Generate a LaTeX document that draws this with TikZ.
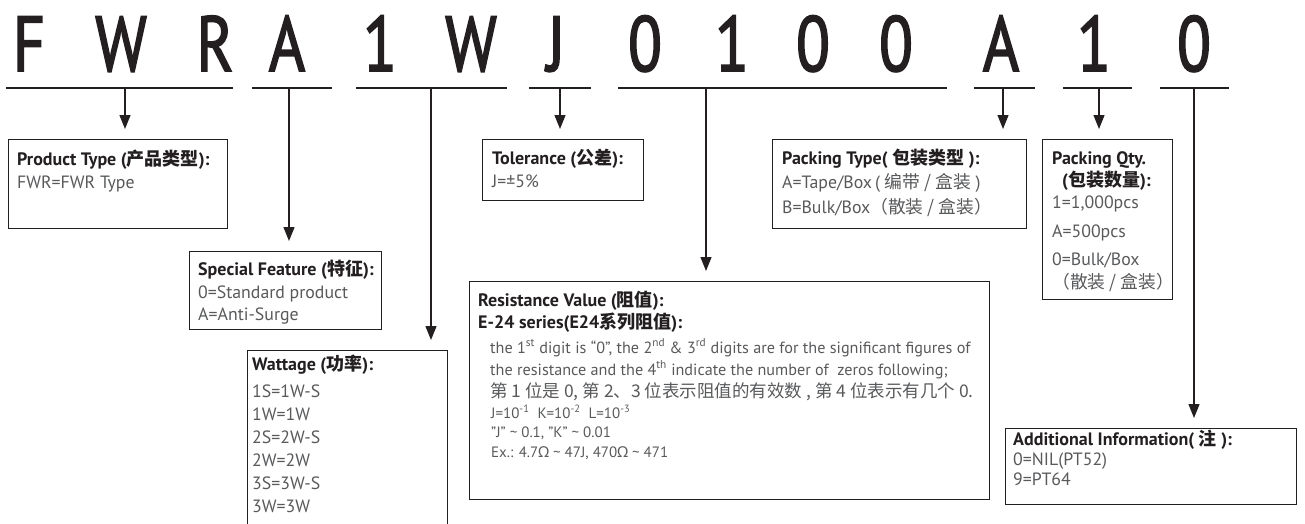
\documentclass[tikz,border=0pt]{standalone}
\usepackage{fontspec}
\setmainfont{PT Sans}
\newfontfamily\codefont[FakeBold=2.2]{PT Sans}
\newfontfamily\zhfont{Noto Sans CJK SC}
\newfontfamily\grfont{Noto Sans}
\usetikzlibrary{arrows.meta}
\definecolor{ink}{HTML}{231F20}
\definecolor{txtgray}{HTML}{58595B}
\newcommand{\zh}[1]{{\zhfont #1}}

\begin{document}
\begin{tikzpicture}[x=1pt,y=-1pt,
	code/.style={anchor=base, inner sep=0pt, font=\codefont\fontsize{78}{80}\selectfont, text=ink},
	bar/.style={line width=2pt, draw=ink},
	pointer/.style={line width=1.3pt, draw=ink, -{Triangle[length=14pt,width=11pt]}, shorten >=10pt},
	infobox/.style={draw=ink, line width=1.2pt, anchor=north west, inner sep=0pt},
	head/.style={anchor=base west, inner sep=0pt, font=\bfseries\fontsize{18}{20}\selectfont, text=ink},
	entry/.style={anchor=base west, inner sep=0pt, font=\fontsize{17.8}{20}\selectfont, text=txtgray},
	note/.style={entry, font=\fontsize{16.2}{18}\selectfont},
	small/.style={entry, font=\fontsize{15}{17}\selectfont},
]
	\useasboundingbox (0,0) rectangle (1305,523);
	\clip (0,0) rectangle (1305,523);

	% part number, one letter per node
	\foreach \ch/\px [count=\i] in {F/29, W/121, R/215, A/287, 1/380, W/471, J/556,
		0/645, 1/732, 0/813, 0/896, A/1001, 1/1094, 0/1194}
		\node[code] (c\i) at (\px,71) {\scalebox{0.8}[1]{\ch}};
	\foreach \a/\b in {6/233, 252/332, 356/507, 529/591, 618/947, 974/1035, 1063/1132, 1160/1229}
		\draw[bar] (\a,88) -- (\b,88);

	% where the pointers leave the bars
	\coordinate (tprod) at (125,88);
	\coordinate (tspec) at (289,88);
	\coordinate (twatt) at (431,88);
	\coordinate (ttol) at (560,88);
	\coordinate (tres) at (706,88);
	\coordinate (tpack) at (1003,88);
	\coordinate (tqty) at (1099,88);
	\coordinate (tadd) at (1194,88);

	% boxes
	\node[infobox, minimum width=219pt, minimum height=89pt] (prod) at (8,139) {};
	\node[infobox, minimum width=192pt, minimum height=78pt] (spec) at (189,251) {};
	\node[infobox, minimum width=200pt, minimum height=220pt] (watt) at (247,350) {};
	\node[infobox, minimum width=161pt, minimum height=61pt] (tol) at (482,139) {};
	\node[infobox, minimum width=520pt, minimum height=218pt] (res) at (469,281) {};
	\node[infobox, minimum width=254pt, minimum height=89pt] (pack) at (772,139) {};
	\node[infobox, minimum width=130pt, minimum height=160pt] (qty) at (1042,139) {};
	\node[infobox, minimum width=291pt, minimum height=76pt] (add) at (1005,428) {};

	\draw[pointer] (tprod) -- (tprod |- prod.north);
	\draw[pointer] (tspec) -- (tspec |- spec.north);
	\draw[pointer] (twatt) -- (twatt |- watt.north);
	\draw[pointer] (ttol) -- (ttol |- tol.north);
	\draw[pointer] (tres) -- (tres |- res.north);
	\draw[pointer] (tpack) -- (tpack |- pack.north);
	\draw[pointer] (tqty) -- (tqty |- qty.north);
	\draw[pointer] (tadd) -- (tadd |- add.north);

	% product type
	\node[head] (prodh) at (17,165) {Product Type (\zh{产品类型}):};
	\node[entry] (prod1) at (17,188) {FWR=FWR Type};

	% special feature
	\node[head] (spech) at (198,275) {Special Feature (\zh{特征}):};
	\node[entry] (spec1) at (198,298) {0=Standard product};
	\node[entry] (spec2) at (198,320) {A=Anti-Surge};

	% wattage
	\node[head] (watth) at (252,370) {Wattage (\zh{功率}):};
	\foreach \t [count=\i] in {1S=1W-S, 1W=1W, 2S=2W-S, 2W=2W, 3S=3W-S, 3W=3W}
		\node[entry] (watt\i) at (252,374+23*\i) {\t};

	% tolerance
	\node[head] (tolh) at (492,164) {Tolerance (\zh{公差}):};
	\node[entry] (tol1) at (492,187) {J=±5\%};

	% resistance value
	\node[head] (resh) at (478,306) {Resistance Value (\zh{阻值}):};
	\node[head] (resh2) at (478,328) {E-24 series(E24\zh{系列阻值}):};
	\node[note] (res1) at (490,353) {the 1\textsuperscript{st} digit is “0”, the 2\textsuperscript{nd} \& 3\textsuperscript{rd} digits are for the significant figures of};
	\node[note] (res2) at (490,375) {the resistance and the 4\textsuperscript{th} indicate the number of \ zeros following;};
	\node[entry, font=\fontsize{17.5}{20}\selectfont] (res3) at (490,397) {\zh{第 1 位是 0, 第 2、3 位表示阻值的有效数 , 第 4 位表示有几个 0.}};
	\node[small] (res4) at (491,418) {J=10\textsuperscript{-1}\ \ K=10\textsuperscript{-2}\ \ L=10\textsuperscript{-3}};
	\node[small] (res5) at (491,437) {"J" \textasciitilde{} 0.1, "K" \textasciitilde{} 0.01};
	\node[small] (res6) at (491,457) {Ex.: 4.7{\grfont Ω} \textasciitilde{} 47J, 470{\grfont Ω} \textasciitilde{} 471};

	% packing type
	\node[head] (packh) at (782,164) {Packing Type( \zh{包装类型} ):};
	\node[entry] (pack1) at (782,188) {A=Tape/Box\,( \zh{编带 / 盒装} )};
	\node[entry] (pack2) at (782,213) {B=Bulk/Box\zh{（散装 / 盒装）}};

	% packing quantity
	\node[head] (qtyh) at (1052,164) {Packing Qty.};
	\node[head] (qtyh2) at (1062,186) {(\zh{包装数量}):};
	\node[entry] (qty1) at (1052,208) {1=1,000pcs};
	\node[entry] (qty2) at (1052,237) {A=500pcs};
	\node[entry] (qty3) at (1052,265) {0=Bulk/Box};
	\node[entry] (qty4) at (1052,288) {\zh{（散装 / 盒装）}};

	% additional information
	\node[head] (addh) at (1013,445) {Additional Information( \zh{注} ):};
	\node[entry] (add1) at (1013,465) {0=NIL(PT52)};
	\node[entry] (add2) at (1013,485) {9=PT64};
\end{tikzpicture}
\end{document}
